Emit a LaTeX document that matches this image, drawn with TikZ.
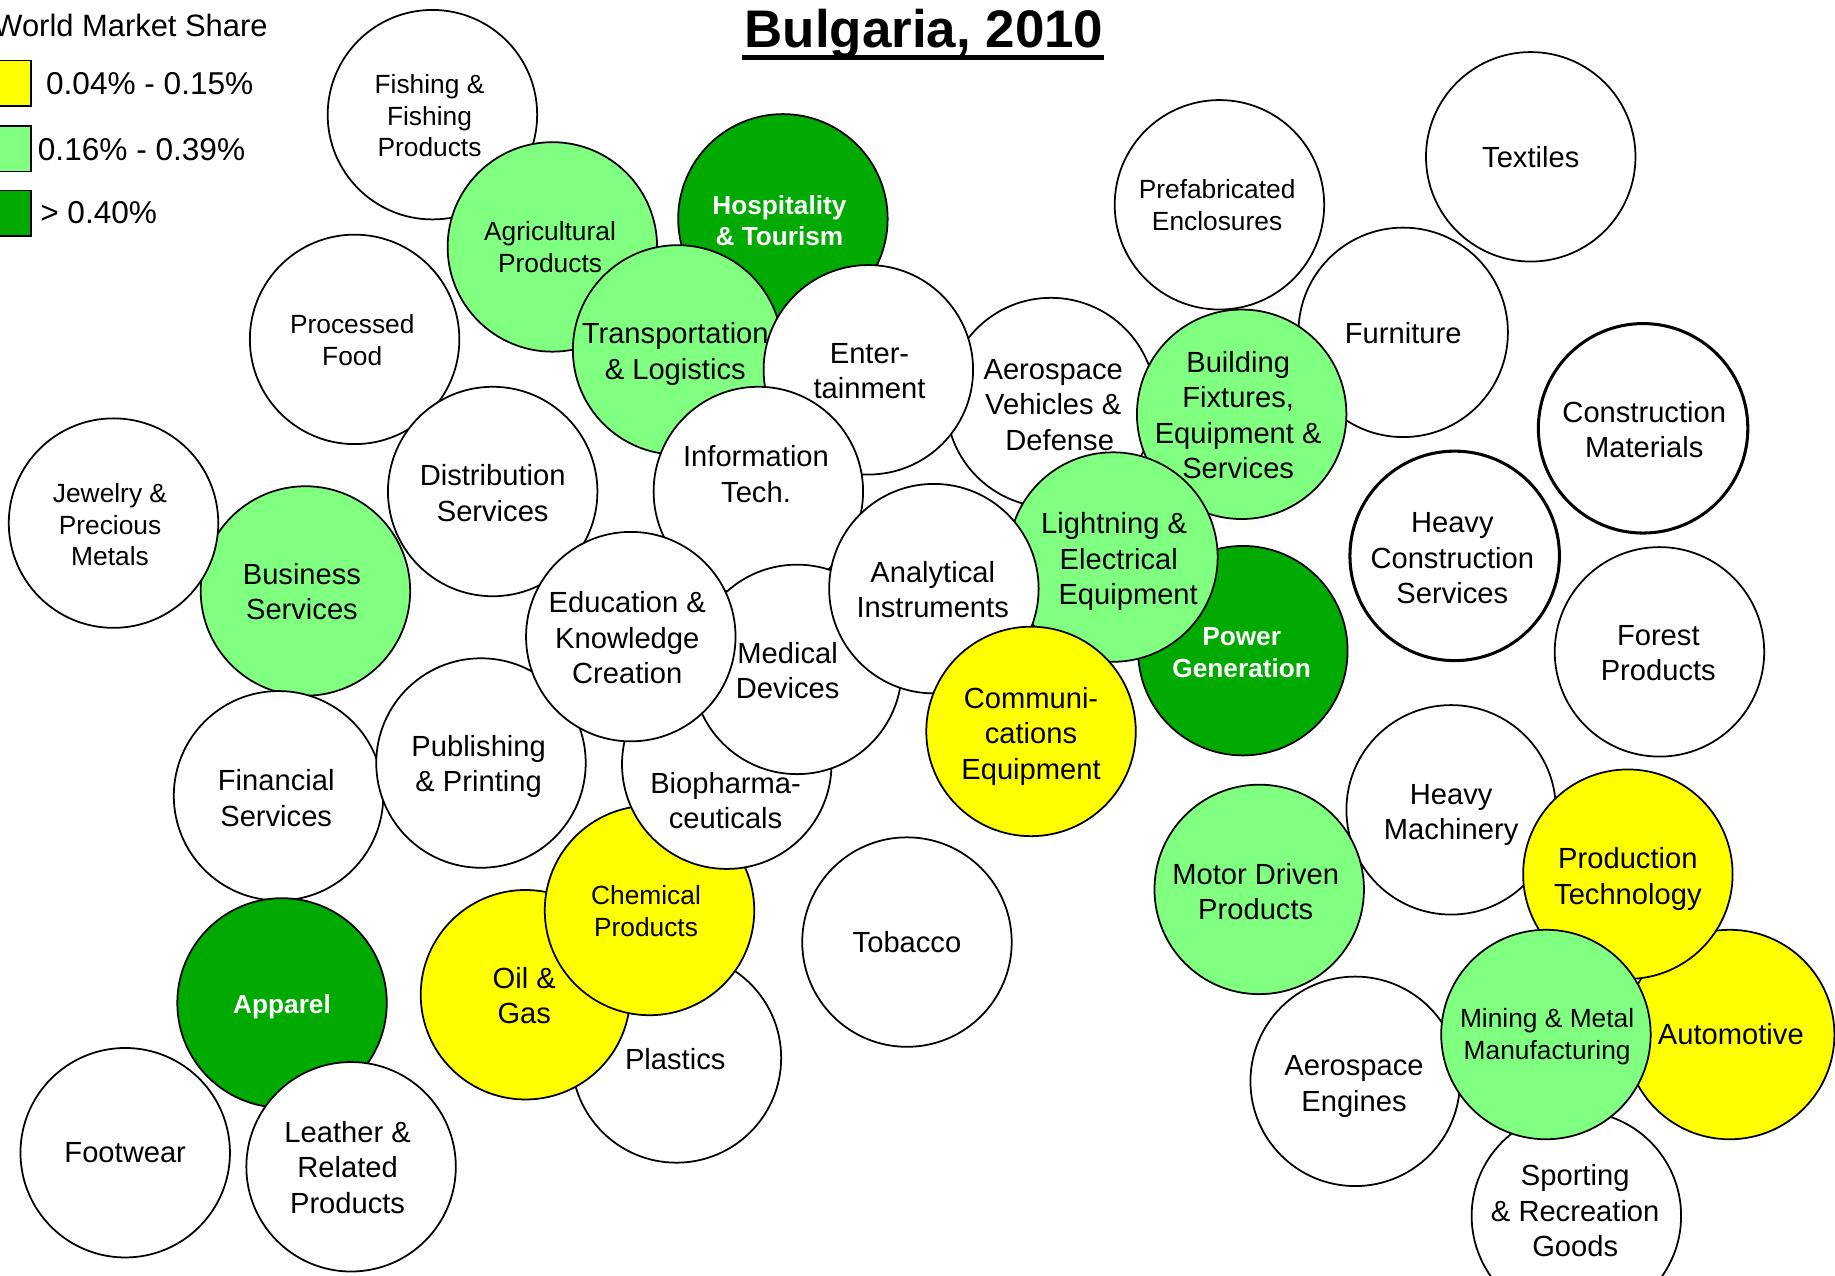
\documentclass[tikz,border=0pt]{standalone}
\usepackage{fontspec}
\setmainfont{Liberation Sans}
\definecolor{yel}{RGB}{255,255,0}
\definecolor{lgr}{RGB}{128,255,128}
\definecolor{dgr}{RGB}{0,170,0}
\tikzset{
  bub/.style={circle, draw=black, line width=0.75pt, minimum size=89.5pt, inner sep=0pt, outer sep=0pt, fill=white},
  wb/.style={bub, fill=white},
  yb/.style={bub, fill=yel},
  lb/.style={bub, fill=lgr},
  db/.style={bub, fill=dgr},
  hb/.style={bub, fill=white, line width=1.3pt},
  big/.style={font=\fontsize{12.45}{15.15}\selectfont, align=center, inner sep=0pt},
  sml/.style={font=\fontsize{11.25}{13.5}\selectfont, align=center, inner sep=0pt},
  bld/.style={font=\fontsize{11.2}{13.5}\selectfont\bfseries, text=white, align=center, inner sep=0pt},
  legbox/.style={draw=black, line width=0.6pt},
  legtxt/.style={font=\fontsize{13.5}{16}\selectfont, inner sep=0pt, anchor=base west},
}
\begin{document}
\begin{tikzpicture}[x=0.5pt,y=-0.5pt]
\useasboundingbox (0,0) rectangle (1568,1090);
\fill[white] (0,0) rectangle (1568,1090);

% legend
\node[legtxt, font=\fontsize{13.2}{16}\selectfont] (legt) at (-6,31) {World Market Share};
\node[legbox, fill=yel, minimum width=13.5pt, minimum height=19.5pt, inner sep=0pt, anchor=north west] (ly) at (-1,51) {};
\node[legbox, fill=lgr, minimum width=13.5pt, minimum height=19.5pt, inner sep=0pt, anchor=north west] (ll) at (-1,107) {};
\node[legbox, fill=dgr, minimum width=13.5pt, minimum height=19.5pt, inner sep=0pt, anchor=north west] (ld) at (-1,162) {};
\node[legtxt] (lyt) at (39,81) {0.04\% - 0.15\%};
\node[legtxt] (llt) at (32,137) {0.16\% - 0.39\%};
\node[legtxt] (ldt) at (34,191) {> 0.40\%};

% title
\node[font=\fontsize{22.6}{27}\selectfont\bfseries, inner sep=0pt, anchor=base] (title) at (789.5,41) {Bulgaria, 2010};
\coordinate (ula) at (634,49);
\coordinate (ulb) at (943,49);
\draw[line width=2pt] (ula) -- (ulb);

% bubbles, back to front
\node[wb] (fish) at (369.5,98) {};
\node[sml] (fisht) at (367,99) {Fishing \&\\Fishing\\Products};

\node[lb] (agri) at (472,211) {};
\node[sml] (agrit) at (470,211) {Agricultural\\Products};

\node[db] (hosp) at (669,187) {};
\node[bld] (hospt) at (666,188.5) {Hospitality\\\& Tourism};

\node[lb] (trans) at (579,299) {};
\node[big] (transt) at (577,302.5) {Transportation\\\& Logistics};

\node[wb] (aerov) at (898,344) {};
\node[big] (aerovt) at (900,346) {Aerospace\\Vehicles \&\\\hspace*{5.5pt}Defense};

\node[wb] (ent) at (742,316) {};
\node[big] (entt) at (743,317) {Enter-\\tainment};

\node[wb] (it) at (648,420) {};
\node[big] (itt) at (646,405) {Information\\Tech.};

\node[wb] (proc) at (303,290) {};
\node[sml] (proct) at (301,290.5) {Processed\\Food};

\node[wb] (dist) at (421,420) {};
\node[big] (distt) at (421,421.5) {Distribution\\Services};

\node[lb] (bus) at (261,505) {};
\node[big] (bust) at (258,505.5) {Business\\Services};

\node[wb] (jew) at (97,447) {};
\node[sml] (jewt) at (94,448.5) {Jewelry \&\\Precious\\Metals};

\node[wb] (fin) at (238,680) {};
\node[big] (fint) at (236,682) {Financial\\Services};

\node[wb] (pub) at (411,652) {};
\node[big] (pubt) at (409,655) {Publishing\\\& Printing};

\node[wb] (plas) at (578,904) {};
\node[big] (plast) at (577,905) {Plastics};

\node[yb] (oil) at (449,850) {};
\node[big] (oilt) at (448,850.5) {Oil \&\\Gas};

\node[yb] (chem) at (555,778) {};
\node[sml] (chemt) at (552,778.5) {Chemical\\Products};

\node[wb] (bio) at (621,653) {};
\node[big] (biot) at (620,684) {Biopharma-\\ceuticals};

\node[wb] (med) at (681,572) {};
\node[big] (medt) at (673,573) {Medical\\Devices};

\node[wb] (edu) at (539,544) {};
\node[big] (edut) at (536,545) {Education \&\\Knowledge\\Creation};

\node[wb] (pref) at (1042,175) {};
\node[sml] (preft) at (1040,175.5) {Prefabricated\\Enclosures};

\node[wb] (tex) at (1308,134) {};
\node[big] (text) at (1308,134) {Textiles};

\node[wb] (furn) at (1199,284) {};
\node[big] (furnt) at (1199,285) {Furniture};

\node[lb] (build) at (1061,354) {};
\node[big] (buildt) at (1058,354.5) {Building\\Fixtures,\\Equipment \&\\Services};

\node[db] (pow) at (1062,556) {};
\node[bld] (powt) at (1061,557.5) {Power\\Generation};

\node[lb] (light) at (951,476) {};
\node[big] (lightt) at (956,480) {\hspace*{-4pt}Lightning \&\\Electrical\\\hspace*{8pt}Equipment};

\node[wb] (ana) at (798,503) {};
\node[big] (anat) at (797,504) {Analytical\\Instruments};

\node[yb] (comm) at (881,625) {};
\node[big] (commt) at (881,629) {Communi-\\cations\\Equipment};

\node[hb] (hcon) at (1243,475) {};
\node[big] (hcont) at (1241,477) {Heavy\\Construction\\Services};

\node[hb] (cmat) at (1404,366) {};
\node[big] (cmatt) at (1405,367) {Construction\\Materials};

\node[wb] (for) at (1418,557) {};
\node[big] (fort) at (1417,558) {Forest\\Products};

\node[wb] (tob) at (775,805) {};
\node[big] (tobt) at (775,805) {Tobacco};

\node[db] (app) at (241,857) {};
\node[bld] (appt) at (241,860) {Apparel};

\node[wb] (foot) at (107,985) {};
\node[big] (foott) at (107,985) {Footwear};

\node[wb] (lea) at (300,997) {};
\node[big] (leat) at (297,997.5) {Leather \&\\Related\\Products};

\node[wb] (hmach) at (1240,692) {};
\node[big] (hmacht) at (1240,696.5) {Heavy\\Machinery};

\node[lb] (motor) at (1076,760) {};
\node[big] (motort) at (1073,762) {Motor Driven\\Products};

\node[yb] (auto) at (1478,884) {};
\node[big] (autot) at (1479,884) {Automotive};

\node[yb] (prod) at (1391,747) {};
\node[big] (prodt) at (1391,751) {Production\\Technology};

\node[wb] (aeroe) at (1158,924) {};
\node[big] (aeroet) at (1157,928.5) {Aerospace\\Engines};

\node[wb] (sport) at (1347,1039) {};
\node[big] (sportt) at (1346,1034.5) {Sporting\\\& Recreation\\Goods};

\node[lb] (mine) at (1321,884) {};
\node[sml] (minet) at (1322,886) {Mining \& Metal\\Manufacturing};

\end{tikzpicture}
\end{document}
